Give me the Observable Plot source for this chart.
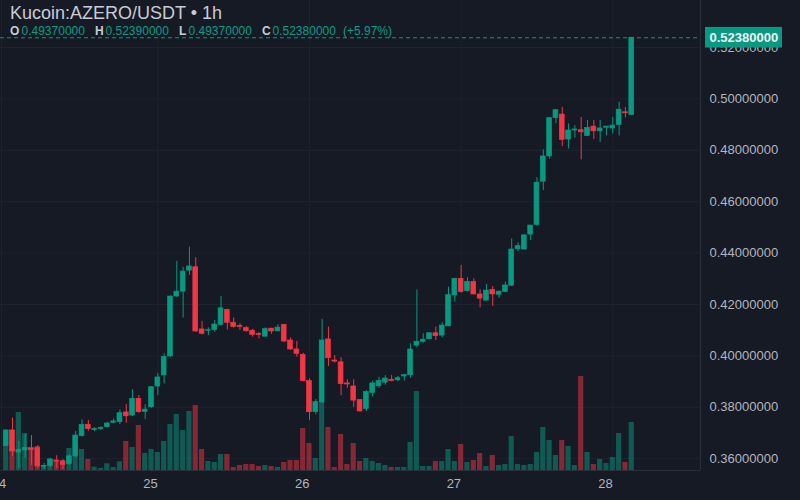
<!DOCTYPE html>
<html>
<head>
<meta charset="utf-8">
<script src="https://cdn.jsdelivr.net/npm/d3@7"></script>
<script src="https://cdn.jsdelivr.net/npm/@observablehq/plot@0.6"></script>
<style>
html,body{margin:0;padding:0;background:#161a25;width:800px;height:500px;overflow:hidden}
#wrap{position:relative;width:800px;height:500px;font-family:"Liberation Sans",Arial,sans-serif}
#wrap svg{position:absolute;left:0;top:0;background:transparent;overflow:hidden}
.hd{position:absolute;white-space:nowrap;z-index:5}
#title{left:10px;top:3px;font-size:18px;line-height:20px;color:#c9ccd4}
.ohl{top:24px;font-size:12px;line-height:14px;color:#0b9d84}
.ohl b{color:#c9ccd4}
</style>
</head>
<body>
<div id="wrap">
  <div class="hd" id="title">Kucoin:AZERO/USDT • 1h</div>
  <div class="hd ohl" style="left:10px"><b>O</b></div><div class="hd ohl" style="left:21.5px">0.49370000</div>
  <div class="hd ohl" style="left:95px"><b>H</b></div><div class="hd ohl" style="left:105.5px">0.52390000</div>
  <div class="hd ohl" style="left:179px"><b>L</b></div><div class="hd ohl" style="left:188.5px">0.49370000</div>
  <div class="hd ohl" style="left:262px"><b>C</b></div><div class="hd ohl" style="left:272.5px">0.52380000</div>
  <div class="hd ohl" style="left:343px">(+5.97%)</div>
</div>
<script>
const opens = [
.3649,.3710,.3624,.3632,.3641,.3641,.3569,.3572,.3593,.3590,
.3579,.3609,.3688,.3732,.3712,.3716,.3723,.3740,.3742,.3780,
.3768,.3833,.3782,.3800,.3881,.3924,.3998,.4231,.4250,.4332,
.4345,.4103,.4098,.4101,.4121,.4179,.4129,.4117,.4108,.4098,
.4086,.4075,.4106,.4096,.4121,.4060,.4025,.4004,.3902,.3781,
.3819,.4064,.3982,.3975,.3893,.3881,.3828,.3794,.3856,.3882,
.3896,.3907,.3905,.3920,.3925,.4040,.4055,.4065,.4088,.4079,
.4115,.4235,.4300,.4252,.4287,.4239,.4215,.4257,.4238,.4249,
.4273,.4415,.4414,.4472,.4510,.4678,.4776,.4925,.4939,.4842,
.4877,.4878,.4856,.4892,.4874,.4888,.4885,.4899,.4948,.4937];
const highs = [
.3710,.3758,.3667,.3694,.3690,.3651,.3581,.3602,.3612,.3596,
.3616,.3706,.3751,.3749,.3721,.3724,.3741,.3754,.3790,.3811,
.3868,.3846,.3810,.3881,.3931,.4008,.4233,.4368,.4345,.4423,
.4382,.4134,.4109,.4138,.4231,.4182,.4147,.4125,.4115,.4103,
.4090,.4109,.4107,.4121,.4122,.4070,.4057,.4010,.3911,.3830,
.4142,.4112,.4001,.3993,.3907,.3907,.3828,.3865,.3902,.3917,
.3923,.3924,.3920,.3928,.4047,.4257,.4086,.4089,.4112,.4129,
.4267,.4301,.4352,.4304,.4300,.4257,.4278,.4270,.4251,.4287,
.4455,.4440,.4470,.4508,.4693,.4802,.4927,.4958,.4967,.4903,
.4896,.4928,.4916,.4916,.4916,.4893,.4928,.4987,.4967,.5239];
const lows = [
.3649,.3609,.3562,.3601,.3574,.3562,.3558,.3565,.3562,.3558,
.3574,.3604,.3684,.3707,.3705,.3711,.3719,.3736,.3733,.3738,
.3764,.3777,.3753,.3796,.3846,.3891,.3994,.4228,.4147,.4313,
.4092,.4082,.4079,.4092,.4117,.4101,.4109,.4099,.4092,.4073,
.4066,.4073,.4084,.4095,.4052,.4021,.3995,.3899,.3749,.3771,
.3815,.3959,.3972,.3845,.3874,.3800,.3781,.3784,.3839,.3874,
.3886,.3899,.3900,.3902,.3913,.4031,.4049,.4063,.4060,.4070,
.4114,.4209,.4244,.4249,.4238,.4187,.4214,.4193,.4224,.4246,
.4270,.4406,.4412,.4449,.4503,.4643,.4765,.4903,.4815,.4805,
.4847,.4763,.4853,.4842,.4830,.4856,.4864,.4856,.4926,.4937];
const closes = [
.3710,.3628,.3635,.3642,.3634,.3570,.3572,.3597,.3588,.3576,
.3609,.3690,.3732,.3716,.3715,.3720,.3737,.3745,.3777,.3765,
.3833,.3781,.3791,.3878,.3916,.3996,.4231,.4250,.4328,.4348,
.4095,.4086,.4100,.4122,.4185,.4129,.4113,.4113,.4096,.4082,
.4082,.4104,.4095,.4110,.4056,.4025,.4008,.3902,.3781,.3820,
.4060,.3991,.3978,.3890,.3889,.3826,.3784,.3859,.3893,.3902,
.3912,.3902,.3913,.3925,.4025,.4055,.4063,.4088,.4077,.4118,
.4236,.4300,.4249,.4287,.4239,.4223,.4254,.4239,.4250,.4274,
.4414,.4427,.4469,.4507,.4674,.4776,.4925,.4956,.4841,.4877,
.4881,.4870,.4887,.4874,.4885,.4892,.4896,.4958,.4944,.5238];
const volumes = [
25,22,58,37,22,24,4,6,8,7,
22,14,21,11,3.3,2,6.7,3,8.7,29,
23,45,17,21,18,29,46,56,40,59,
65,21,9,8,16,16,3,5,6,6,
4,5,4,3,8,10,10,42,27,12,
69,43,3,36,6,27,9,12,9,7,
5,3,3,3,28,79,4,4,9,9,
21,9,26,8,10,17,4,15,5,6,
34,6,5,6,18,43,30,15,30,24,
5,94,18,6,11,7,13,37,8,48];
const priceTicks = [.36,.38,.40,.42,.44,.46,.48,.50,.52];
const dayLabels = ["24","25","26","27","28"];
const dayLabelIndex = [-1.15,22.85,46.85,70.85,94.85];
const dayGridIndex = [-0.75,24,48,72,96];
const lastClose = 0.5238;

const UP = "#089981", DOWN = "#f23645";
const GRID = "#1f2330", BORDER = "#2a2e39";
const xDomain = [-0.9, 109.88];

const candles = closes.map((c,i)=>({i,o:opens[i],h:highs[i],l:lows[i],c,v:volumes[i],col:c>=opens[i]?UP:DOWN}));
const common = {
  width:800, height:500, marginLeft:0, marginRight:100, marginTop:0, marginBottom:30,
  style:{background:"transparent",color:"#b2b5be",fontFamily:"'Liberation Sans',Arial,sans-serif",fontSize:"13px"}
};
const f8 = d3.format(".8f");

const pricePlot = Plot.plot({
  ...common,
  x:{domain:xDomain, range:[0,700]},
  y:{domain:[.36,.52], range:[458.2,47]},
  marks:[
    Plot.ruleY(priceTicks,{stroke:GRID}),
    Plot.ruleX(dayGridIndex,{stroke:GRID}),
    Plot.ruleX(candles,{x:"i",y1:"l",y2:"h",stroke:"col",strokeWidth:1}),
    Plot.rect(candles,{x1:d=>d.i-0.38,x2:d=>d.i+0.38,y1:"o",y2:"c",fill:"col",stroke:"col",strokeWidth:0.7}),
    Plot.ruleY([lastClose],{stroke:UP,strokeDasharray:"4,3",strokeWidth:1.2}),
    Plot.ruleX([xDomain[1]],{stroke:BORDER}),
    Plot.axisX({ticks:dayLabelIndex,tickFormat:d=>dayLabels[dayLabelIndex.indexOf(d)],tickSize:0,tickPadding:8,label:null}),
    Plot.axisY({anchor:"right",ticks:priceTicks,tickFormat:f8,tickSize:0,tickPadding:9,label:null}),
    Plot.rect([lastClose],{x1:()=>xDomain[1],x2:()=>xDomain[1],y1:d=>d,y2:d=>d,dx:5,insetRight:-77,insetTop:-10.3,insetBottom:-10.3,fill:UP}),
    Plot.text([lastClose],{x:()=>xDomain[1],y:d=>d,dx:9,textAnchor:"start",text:f8,fill:"#f0f3fa",fontWeight:"bold",fontSize:13})
  ]
});

const volumePlot = Plot.plot({
  ...common,
  x:{domain:xDomain, range:[0,700], axis:null},
  y:{domain:[0,100], range:[470,370], axis:null},
  marks:[
    Plot.rectY(candles,{x1:d=>d.i-0.41,x2:d=>d.i+0.41,y:"v",fill:"col",fillOpacity:0.5}),
    Plot.ruleY([0],{stroke:BORDER})
  ]
});
const wrap = document.getElementById("wrap");
wrap.appendChild(pricePlot);
wrap.appendChild(volumePlot);
</script>
</body>
</html>
